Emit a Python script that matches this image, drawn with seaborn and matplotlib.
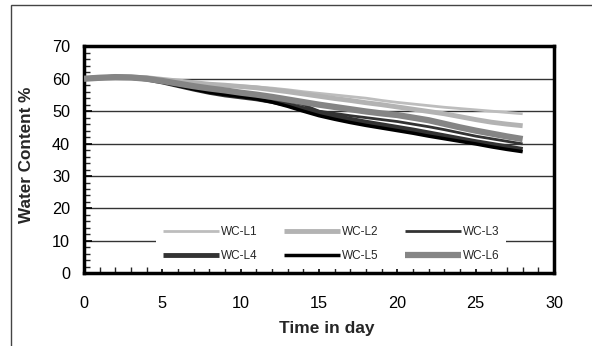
import numpy as np
import pandas as pd
import matplotlib
matplotlib.use("Agg")
import matplotlib.pyplot as plt
import seaborn as sns
from matplotlib.ticker import MultipleLocator
from matplotlib.patches import Rectangle

days = list(range(0, 29))
wc_l1 = [60, 60.3, 60.5, 60.5, 60.3, 59.8, 59.3, 58.8, 58.4, 58.1, 57.8, 57.5, 57.1, 56.6, 56.0,
         55.5, 55.0, 54.5, 54.0, 53.3, 52.7, 52.2, 51.7, 51.2, 50.8, 50.4, 50.0, 49.6, 49.2]
wc_l2 = [60, 60.3, 60.5, 60.5, 60.3, 59.8, 59.3, 58.8, 58.3, 58.0, 57.6, 57.2, 56.6, 56.0, 55.3,
         54.6, 53.9, 53.3, 52.6, 52.0, 51.3, 50.6, 49.9, 49.2, 48.3, 47.4, 46.6, 46.0, 45.5]
wc_l3 = [60, 60.3, 60.5, 60.4, 60.0, 59.2, 58.3, 57.4, 56.7, 56.1, 55.5, 54.8, 54.0, 53.0, 52.0,
         50.0, 49.3, 48.6, 48.0, 47.4, 46.8, 46.0, 45.2, 44.3, 43.3, 42.3, 41.5, 40.7, 39.9]
wc_l4 = [60, 60.3, 60.5, 60.4, 59.9, 59.0, 57.9, 56.8, 55.8, 55.0, 54.4, 53.8, 53.0, 52.0, 50.8,
         49.6, 48.5, 47.5, 46.6, 45.8, 45.0, 44.2, 43.3, 42.4, 41.5, 40.6, 39.8, 39.0, 38.2]
wc_l5 = [60, 60.3, 60.5, 60.4, 59.9, 59.0, 57.9, 56.8, 55.8, 55.1, 54.5, 53.8, 52.8, 51.5, 50.0,
         48.6, 47.5, 46.5, 45.6, 44.8, 44.0, 43.2, 42.3, 41.5, 40.7, 39.9, 39.0, 38.2, 37.5]
wc_l6 = [60, 60.3, 60.5, 60.4, 60.0, 59.3, 58.5, 57.7, 57.0, 56.4, 55.7, 55.1, 54.4, 53.6, 52.8,
         52.0, 51.3, 50.6, 49.9, 49.3, 48.8, 48.0, 47.2, 46.1, 45.0, 44.0, 43.1, 42.2, 41.4]
series_names = ["WC-L1", "WC-L2", "WC-L3", "WC-L4", "WC-L5", "WC-L6"]
x_ticks = [0, 5, 10, 15, 20, 25, 30]
y_ticks = [0, 10, 20, 30, 40, 50, 60, 70]

sns.set_theme(style="white")
plt.rcParams['font.family'] = ['Liberation Sans', 'DejaVu Sans']

fig = plt.figure(figsize=(5.92, 3.46), dpi=100)
ax = fig.add_axes([84/592, 1-273.3/346, 470/592, 227/346])

# outer border
fig.patches.append(Rectangle((11/592, -0.1), 1.2, 1 - 5/346 + 0.1, transform=fig.transFigure,
                             fill=False, edgecolor="#444444", linewidth=1.0))

styles = {
    "WC-L1": dict(color="#bdbdbd", lw=2.0),
    "WC-L2": dict(color="#b3b3b3", lw=3.5),
    "WC-L3": dict(color="#333333", lw=2.0),
    "WC-L4": dict(color="#333333", lw=3.5),
    "WC-L5": dict(color="#000000", lw=2.5),
    "WC-L6": dict(color="#858585", lw=4.5),
}
data = [wc_l1, wc_l2, wc_l3, wc_l4, wc_l5, wc_l6]
df = pd.DataFrame({"day": days * 6,
                   "wc": sum(data, []),
                   "series": [n for n in series_names for _ in days]})

for name in series_names:
    sub = df[df.series == name]
    sns.lineplot(data=sub, x="day", y="wc", ax=ax, color=styles[name]["color"],
                 linewidth=styles[name]["lw"], label=name, zorder=3,
                 solid_capstyle="butt", solid_joinstyle="miter")

ax.set_xlim(0, 30)
ax.set_ylim(0, 70)
ax.set_xticks(x_ticks)
ax.set_yticks(y_ticks)
ax.xaxis.set_minor_locator(MultipleLocator(1))
ax.yaxis.set_minor_locator(MultipleLocator(2))
ax.tick_params(axis="both", which="major", direction="in", length=6, width=1.2,
               labelsize=11.7, colors="black")
ax.tick_params(axis="both", which="minor", direction="in", length=4, width=1.0)
ax.tick_params(axis="x", which="major", pad=16)
ax.tick_params(axis="y", which="major", pad=10)
ax.tick_params(bottom=True, left=True, which="both")
ax.yaxis.grid(True, color="#333333", linewidth=1.0, zorder=0)
ax.xaxis.grid(False)
for s in ax.spines.values():
    s.set_color("black")
    s.set_linewidth(2.5)

ax.set_xlabel("Time in day", fontsize=12.5, fontweight="bold", va="center")
ax.xaxis.set_label_coords(0.517, -0.241)
ax.set_ylabel("Water Content %", fontsize=12.3, fontweight="bold", va="center")
ax.yaxis.set_label_coords(-0.123, 0.52)

handles, labels = ax.get_legend_handles_labels()
for h in handles:
    h.set_solid_capstyle("butt")
order = [0, 3, 1, 4, 2, 5]
leg = ax.legend([handles[i] for i in order], [labels[i] for i in order], ncol=3,
                loc="center", bbox_to_anchor=(0.526, 0.129), fontsize=8.5,
                handlelength=4.7, handletextpad=0.15, columnspacing=2.3,
                frameon=True, framealpha=1, edgecolor="none", fancybox=False,
                borderpad=0.6, labelspacing=1.07)
leg.set_zorder(5)

fig.savefig("out.png", dpi=100)
